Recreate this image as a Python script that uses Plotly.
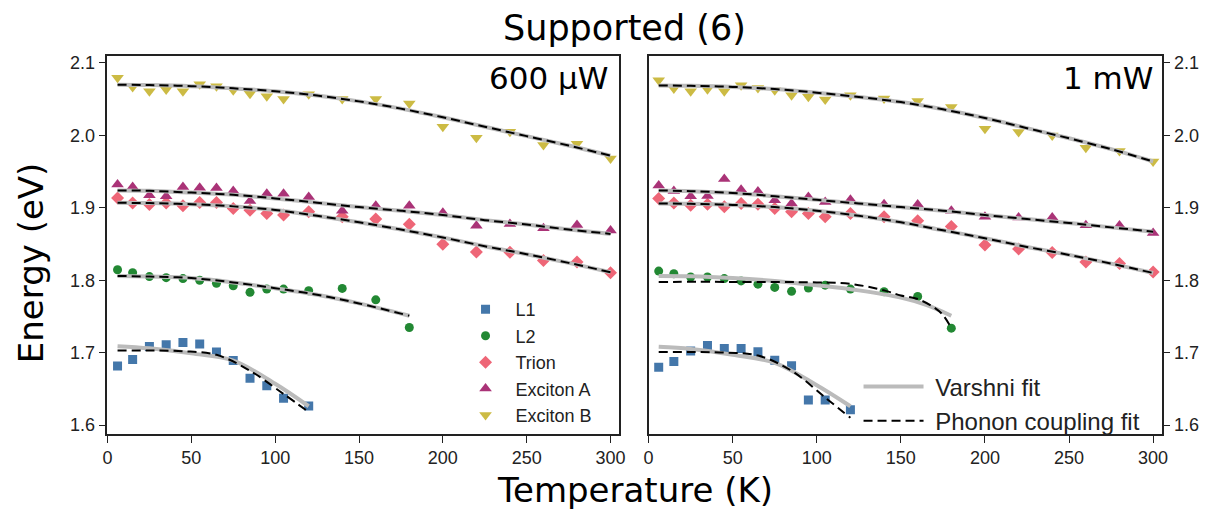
import plotly.graph_objects as go

# ---------------- data ----------------
temps = [6, 15, 25, 35, 45, 55, 65, 75, 85, 95, 105, 120, 140, 160, 180, 200, 220, 240, 260, 280, 300]
temps_L1 = temps[:12]
temps_L2 = temps[:15]

# 600 uW
L1_600 = [1.6814, 1.6905, 1.7086, 1.7109, 1.7140, 1.7118, 1.7009, 1.6891, 1.6647, 1.6543, 1.6371, 1.6262]
L2_600 = [1.8145, 1.8104, 1.8050, 1.8036, 1.8023, 1.8000, 1.7959, 1.7923, 1.7833, 1.7878, 1.7878, 1.7855,
          1.7887, 1.7729, 1.7348]
trion_600 = [1.9136, 1.9068, 1.9045, 1.9068, 1.9027, 1.9073, 1.9073, 1.8991, 1.8968, 1.8923, 1.8900, 1.8946,
             1.8875, 1.8846, 1.8773, 1.8498, 1.8389, 1.8385, 1.8271, 1.8253, 1.8104]
excA_600 = [1.9322, 1.9286, 1.9172, 1.9159, 1.9286, 1.9277, 1.9272, 1.9231, 1.9095, 1.9195, 1.9195, 1.9150,
            1.8959, 1.9027, 1.9027, 1.8932, 1.8751, 1.8778, 1.8719, 1.8764, 1.8687]
excB_600 = [2.0796, 2.0669, 2.0610, 2.0633, 2.0610, 2.0705, 2.0678, 2.0624, 2.0574, 2.0542, 2.0501, 2.0569,
            2.0501, 2.0501, 2.0442, 2.0120, 1.9966, 2.0052, 1.9866, 1.9884, 1.9680]

# 1 mW
L1_1mW = [1.6797, 1.6878, 1.7023, 1.7099, 1.7059, 1.7059, 1.7014, 1.6896, 1.6820, 1.6347, 1.6347, 1.6212]
L2_1mW = [1.8126, 1.8090, 1.8045, 1.8045, 1.8023, 1.7991, 1.7946, 1.7901, 1.7847, 1.7892, 1.7932, 1.7878,
          1.7842, 1.7775, 1.7338]
trion_1mW = [1.9127, 1.9068, 1.9036, 1.9050, 1.9014, 1.9059, 1.9050, 1.8991, 1.8946, 1.8923, 1.8878, 1.8923,
             1.8878, 1.8823, 1.8741, 1.8486, 1.8432, 1.8383, 1.8252, 1.8230, 1.8113]
excA_1mW = [1.9308, 1.9231, 1.9159, 1.9163, 1.9399, 1.9249, 1.9227, 1.9104, 1.9059, 1.9150, 1.9082, 1.9113,
            1.9050, 1.9045, 1.8959, 1.8878, 1.8868, 1.8868, 1.8760, 1.8755, 1.8651]
excB_1mW = [2.0760, 2.0646, 2.0610, 2.0637, 2.0610, 2.0692, 2.0655, 2.0624, 2.0556, 2.0533, 2.0497, 2.0556,
            2.0510, 2.0474, 2.0392, 2.0093, 2.0048, 1.9998, 1.9830, 1.9785, 1.9639]

# fit curves
fit_t = [6, 25, 50, 75, 100, 125, 150, 175, 200, 225, 250, 275, 300]
fit_t_L2 = [6, 25, 50, 75, 100, 125, 150, 180]

excB_fit_600 = [2.070, 2.0695, 2.068, 2.065, 2.061, 2.055, 2.047, 2.037, 2.025, 2.012, 1.999, 1.986, 1.972]
excA_fit_600 = [1.924, 1.9235, 1.921, 1.918, 1.913, 1.907, 1.901, 1.896, 1.890, 1.883, 1.877, 1.870, 1.864]
trion_fit_600 = [1.907, 1.9065, 1.905, 1.902, 1.897, 1.889, 1.880, 1.870, 1.859, 1.847, 1.836, 1.824, 1.811]
L2_fit_600 = [1.806, 1.805, 1.803, 1.797, 1.789, 1.780, 1.768, 1.751]
L1_var_t_600 = [6, 25, 50, 75, 100, 120]
L1_var_600 = [1.709, 1.706, 1.699, 1.689, 1.657, 1.626]
L1_pho_t_600 = [6, 25, 45, 65, 85, 105, 120]
L1_pho_600 = [1.703, 1.703, 1.702, 1.697, 1.675, 1.643, 1.618]

excB_fit_1mW = [2.069, 2.0685, 2.067, 2.064, 2.059, 2.053, 2.046, 2.036, 2.024, 2.010, 1.996, 1.981, 1.964]
excA_fit_1mW = [1.924, 1.923, 1.9205, 1.916, 1.911, 1.906, 1.901, 1.896, 1.890, 1.8845, 1.879, 1.873, 1.867]
trion_fit_1mW = [1.906, 1.9055, 1.904, 1.901, 1.896, 1.889, 1.880, 1.869, 1.858, 1.846, 1.835, 1.823, 1.810]
L2_var_t_1mW = [6, 25, 50, 75, 100, 125, 150, 165, 180]
L2_var_1mW = [1.806, 1.8055, 1.803, 1.799, 1.793, 1.786, 1.776, 1.766, 1.751]
L2_pho_t_1mW = [6, 50, 100, 120, 140, 150, 160, 170, 175, 180]
L2_pho_1mW = [1.7977, 1.7977, 1.797, 1.795, 1.786, 1.779, 1.774, 1.762, 1.752, 1.734]
L1_var_t_1mW = [6, 25, 50, 75, 100, 120]
L1_var_1mW = [1.708, 1.705, 1.697, 1.686, 1.655, 1.626]
L1_pho_t_1mW = [6, 25, 45, 65, 85, 105, 120]
L1_pho_1mW = [1.701, 1.701, 1.700, 1.696, 1.675, 1.638, 1.610]

series_names = ["L1", "L2", "Trion", "Exciton A", "Exciton B"]
colors = ["#4477AA", "#228833", "#EE6677", "#AA3377", "#CCBB44"]
symbols = ["square", "circle", "diamond", "triangle-up", "triangle-down"]
msizes = [9, 9, 10, 11, 11]
fit_names = [" Varshni fit", " Phonon coupling fit"]

# ---------------- figure ----------------
fig = go.Figure()

panels = [
    ("x", "y", [L1_600, L2_600, trion_600, excA_600, excB_600],
     [(L1_var_t_600, L1_var_600), (fit_t_L2, L2_fit_600), (fit_t, trion_fit_600),
      (fit_t, excA_fit_600), (fit_t, excB_fit_600)],
     [(L1_pho_t_600, L1_pho_600), (fit_t_L2, L2_fit_600), (fit_t, trion_fit_600),
      (fit_t, excA_fit_600), (fit_t, excB_fit_600)], True),
    ("x2", "y2", [L1_1mW, L2_1mW, trion_1mW, excA_1mW, excB_1mW],
     [(L1_var_t_1mW, L1_var_1mW), (L2_var_t_1mW, L2_var_1mW), (fit_t, trion_fit_1mW),
      (fit_t, excA_fit_1mW), (fit_t, excB_fit_1mW)],
     [(L1_pho_t_1mW, L1_pho_1mW), (L2_pho_t_1mW, L2_pho_1mW), (fit_t, trion_fit_1mW),
      (fit_t, excA_fit_1mW), (fit_t, excB_fit_1mW)], False),
]

for xa, ya, datas, vfits, pfits, is_left in panels:
    for i, d in enumerate(datas):
        tt = temps_L1 if i == 0 else (temps_L2 if i == 1 else temps)
        fig.add_trace(go.Scatter(
            x=tt, y=d, mode="markers", xaxis=xa, yaxis=ya,
            name=series_names[i], legend="legend", showlegend=is_left,
            marker=dict(symbol=symbols[i], size=msizes[i], color=colors[i], line=dict(width=0)),
        ))
    for i, (ft, fv) in enumerate(vfits):
        fig.add_trace(go.Scatter(
            x=ft, y=fv, mode="lines", xaxis=xa, yaxis=ya, line_shape="spline",
            name=fit_names[0], legend="legend2", showlegend=(not is_left and i == 0),
            line=dict(color="#BBBBBB", width=4),
        ))
    for i, (ft, fv) in enumerate(pfits):
        fig.add_trace(go.Scatter(
            x=ft, y=fv, mode="lines", xaxis=xa, yaxis=ya, line_shape="spline",
            name=fit_names[1], legend="legend2", showlegend=(not is_left and i == 0),
            line=dict(color="black", width=2, dash="9px,5px"),
        ))

W, H = 1222, 513
def px(x):
    return x / W
def py(y):
    return (H - y) / H

tickfont = dict(family="Liberation Sans, Arial", size=18, color="#222222")
x_common = dict(range=[0, 305], tickvals=[0, 50, 100, 150, 200, 250, 300], ticks="outside", ticklen=7,
                tickwidth=1.3, tickcolor="#222222", showline=True, linecolor="#222222", linewidth=1.5,
                mirror=True, showgrid=False, zeroline=False, tickfont=tickfont)
y_common = dict(range=[1.588, 2.109], tickvals=[1.6, 1.7, 1.8, 1.9, 2.0, 2.1],
                ticktext=["1.6", "1.7", "1.8", "1.9", "2.0", "2.1"], ticks="outside", ticklen=7,
                tickwidth=1.3, tickcolor="#222222", showline=True, linecolor="#222222", linewidth=1.5,
                mirror=True, showgrid=False, zeroline=False, tickfont=tickfont)

fig.update_layout(
    width=W, height=H, margin=dict(l=0, r=0, t=0, b=0),
    paper_bgcolor="white", plot_bgcolor="white",
    xaxis=dict(domain=[px(103.5), px(620)], anchor="y", **x_common),
    yaxis=dict(domain=[py(435), py(54)], anchor="x", side="left", **y_common),
    xaxis2=dict(domain=[px(650), px(1168)], anchor="y2", **x_common),
    yaxis2=dict(domain=[py(435), py(54)], anchor="x2", side="right", **y_common),
    legend=dict(x=px(455), y=py(291), xanchor="left", yanchor="top", bgcolor="rgba(0,0,0,0)",
                font=dict(family="Liberation Sans, Arial", size=18, color="#222222"),
                itemwidth=50, tracegroupgap=0),
    legend2=dict(x=px(862), y=py(365), xanchor="left", yanchor="top", bgcolor="rgba(0,0,0,0)",
                 font=dict(family="Liberation Sans, Arial", size=24, color="#222222"),
                 itemwidth=60, tracegroupgap=0),
    showlegend=True,
)

big = dict(family="DejaVu Sans", color="black")
fig.add_annotation(text="Supported (6)", x=px(626), y=py(25), xref="paper", yref="paper",
                   xanchor="center", yanchor="middle", showarrow=False, font=dict(size=35, **big))
fig.add_annotation(text="Energy (eV)", x=px(27), y=py(262), xref="paper", yref="paper", textangle=-90,
                   xanchor="center", yanchor="middle", showarrow=False, font=dict(size=34, **big))
fig.add_annotation(text="Temperature (K)", x=px(636), y=py(492), xref="paper", yref="paper",
                   xanchor="center", yanchor="middle", showarrow=False, font=dict(size=34, **big))
fig.add_annotation(text="600 µW", x=px(611), y=py(76), xref="paper", yref="paper",
                   xanchor="right", yanchor="middle", showarrow=False, font=dict(size=31, **big))
fig.add_annotation(text="1 mW", x=px(1161), y=py(76), xref="paper", yref="paper",
                   xanchor="right", yanchor="middle", showarrow=False, font=dict(size=31, **big))

fig.write_html("out.html")
